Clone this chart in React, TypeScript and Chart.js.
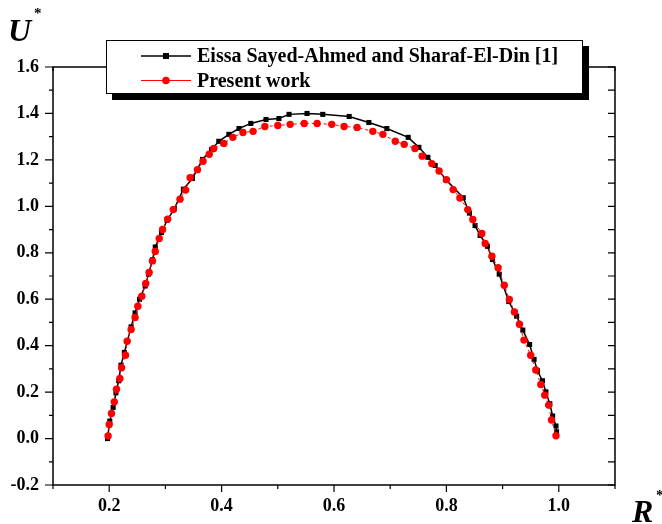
import React, { useEffect, useRef } from 'react';
import { Chart, registerables } from 'chart.js';

Chart.register(...registerables);

// Eissa Sayed-Ahmed and Sharaf-El-Din [1]
const eissaR = [0.197, 0.201, 0.207, 0.212, 0.217, 0.221, 0.227, 0.239, 0.246, 0.254, 0.264, 0.270, 0.277, 0.282, 0.293, 0.303, 0.316, 0.332, 0.348, 0.366, 0.382, 0.395, 0.413, 0.431, 0.452, 0.479, 0.502, 0.520, 0.552, 0.580, 0.627, 0.662, 0.694, 0.732, 0.751, 0.767, 0.780, 0.799, 0.830, 0.841, 0.851, 0.860, 0.873, 0.882, 0.894, 0.911, 0.925, 0.936, 0.948, 0.956, 0.962, 0.971, 0.977, 0.984, 0.989, 0.995, 0.996];
const eissaU = [0.000, 0.075, 0.134, 0.197, 0.249, 0.316, 0.371, 0.481, 0.541, 0.600, 0.657, 0.708, 0.770, 0.825, 0.887, 0.940, 0.990, 1.074, 1.120, 1.202, 1.244, 1.280, 1.310, 1.335, 1.357, 1.374, 1.378, 1.396, 1.400, 1.396, 1.387, 1.361, 1.335, 1.297, 1.254, 1.211, 1.176, 1.115, 1.037, 0.971, 0.917, 0.875, 0.828, 0.771, 0.708, 0.590, 0.527, 0.467, 0.405, 0.341, 0.292, 0.249, 0.201, 0.150, 0.097, 0.054, 0.029];

// Present work
const presentR = [0.198, 0.200, 0.204, 0.209, 0.213, 0.219, 0.222, 0.229, 0.232, 0.239, 0.246, 0.251, 0.258, 0.265, 0.271, 0.277, 0.282, 0.289, 0.295, 0.304, 0.314, 0.326, 0.336, 0.344, 0.357, 0.367, 0.378, 0.386, 0.404, 0.420, 0.438, 0.456, 0.477, 0.500, 0.522, 0.547, 0.570, 0.596, 0.618, 0.641, 0.669, 0.687, 0.709, 0.725, 0.744, 0.757, 0.774, 0.787, 0.800, 0.812, 0.824, 0.838, 0.847, 0.863, 0.869, 0.881, 0.892, 0.903, 0.912, 0.921, 0.930, 0.938, 0.950, 0.959, 0.968, 0.975, 0.982, 0.987, 0.995];
const presentU = [0.011, 0.061, 0.108, 0.158, 0.212, 0.259, 0.305, 0.359, 0.419, 0.470, 0.521, 0.570, 0.613, 0.668, 0.715, 0.765, 0.806, 0.862, 0.900, 0.945, 0.986, 1.031, 1.070, 1.123, 1.158, 1.194, 1.224, 1.249, 1.271, 1.297, 1.318, 1.323, 1.344, 1.348, 1.353, 1.357, 1.357, 1.353, 1.344, 1.340, 1.323, 1.310, 1.280, 1.267, 1.249, 1.216, 1.184, 1.152, 1.115, 1.072, 1.036, 0.986, 0.943, 0.883, 0.840, 0.785, 0.736, 0.660, 0.599, 0.545, 0.492, 0.424, 0.359, 0.295, 0.233, 0.187, 0.144, 0.080, 0.012];

const xTickLabels = ['0.2', '0.4', '0.6', '0.8', '1.0'];
const yTickLabels = ['-0.2', '0.0', '0.2', '0.4', '0.6', '0.8', '1.0', '1.2', '1.4', '1.6'];
const legendLabels = ['Eissa Sayed-Ahmed and Sharaf-El-Din [1]', 'Present work'];
const xTitle = 'R';
const yTitle = 'U';

const FONT = '"Liberation Serif", "Times New Roman", serif';

function findLabel(labels: string[], v: number): string {
  for (const l of labels) {
    if (Math.abs(parseFloat(l) - v) < 1e-6) return l;
  }
  return '';
}

const framePlugin = {
  id: 'frameTicks',
  afterDatasetsDraw(chart: any) {
    const { ctx, chartArea, scales } = chart;
    const { left, right, top, bottom } = chartArea;
    ctx.save();
    ctx.strokeStyle = '#000';
    ctx.lineWidth = 1.5;
    ctx.strokeRect(left, top, right - left, bottom - top);
    ctx.lineWidth = 1.2;
    const xs = scales.x;
    const ys = scales.y;
    ctx.beginPath();
    for (let i = 1; i <= 11; i++) {
      const v = i / 10;
      const px = xs.getPixelForValue(v);
      const major = i % 2 === 0;
      const len = major ? 7 : 4;
      ctx.moveTo(px, bottom);
      ctx.lineTo(px, bottom + len);
      ctx.moveTo(px, top);
      ctx.lineTo(px, top + len);
    }
    for (let i = -2; i <= 16; i++) {
      const v = i / 10;
      const py = ys.getPixelForValue(v);
      const major = ((i % 2) + 2) % 2 === 0;
      const len = major ? 8 : 4;
      ctx.moveTo(left, py);
      ctx.lineTo(left - len, py);
      ctx.moveTo(right, py);
      ctx.lineTo(right - 7, py);
    }
    ctx.stroke();
    ctx.restore();
  },
  afterDraw(chart: any) {
    const { ctx } = chart;
    ctx.save();
    // legend box with shadow
    ctx.fillStyle = '#000';
    ctx.fillRect(112, 46, 477, 54);
    ctx.fillStyle = '#fff';
    ctx.fillRect(106, 40, 477, 54);
    ctx.strokeStyle = '#000';
    ctx.lineWidth = 1;
    ctx.strokeRect(106.5, 40.5, 476, 53);

    const rows = [56, 80.5];
    // row 1: black line + square
    ctx.strokeStyle = '#000';
    ctx.lineWidth = 1.5;
    ctx.beginPath();
    ctx.moveTo(141, rows[0]);
    ctx.lineTo(191, rows[0]);
    ctx.stroke();
    ctx.fillStyle = '#000';
    ctx.fillRect(163, rows[0] - 3, 6, 6);
    // row 2: red line + circle
    ctx.strokeStyle = '#ff0000';
    ctx.lineWidth = 1;
    ctx.beginPath();
    ctx.moveTo(141, rows[1]);
    ctx.lineTo(191, rows[1]);
    ctx.stroke();
    ctx.fillStyle = '#ff0000';
    ctx.beginPath();
    ctx.arc(166, rows[1], 3.8, 0, Math.PI * 2);
    ctx.fill();

    ctx.fillStyle = '#000';
    ctx.font = `bold 20px ${FONT}`;
    ctx.textBaseline = 'middle';
    ctx.textAlign = 'left';
    ctx.fillText(legendLabels[0], 197, rows[0] + 1);
    ctx.fillText(legendLabels[1], 197, rows[1] + 1);

    // axis titles
    ctx.font = `italic bold 32px ${FONT}`;
    ctx.textBaseline = 'alphabetic';
    ctx.fillText(yTitle, 8, 41);
    ctx.fillText(xTitle, 632, 522);
    ctx.font = `bold 15px ${FONT}`;
    ctx.fillText('*', 34, 18);
    ctx.fillText('*', 656, 500);
    ctx.restore();
  },
};

export default function App() {
  const ref = useRef<HTMLCanvasElement | null>(null);
  useEffect(() => {
    if (!ref.current) return;
    const chart = new Chart(ref.current, {
      type: 'line',
      data: {
        datasets: [
          {
            label: legendLabels[1],
            data: presentR.map((r, i) => ({ x: r, y: presentU[i] })),
            borderColor: '#ff0000',
            backgroundColor: '#ff0000',
            borderWidth: 1,
            borderDash: [3, 3],
            pointStyle: 'circle',
            pointRadius: 3.7,
            pointBorderWidth: 0,
            order: 0,
            tension: 0,
          },
          {
            label: legendLabels[0],
            data: eissaR.map((r, i) => ({ x: r, y: eissaU[i] })),
            borderColor: '#000',
            backgroundColor: '#000',
            borderWidth: 1.5,
            pointStyle: 'rect',
            pointRadius: 3.6,
            pointBorderWidth: 0,
            order: 1,
            tension: 0,
          },
        ],
      },
      options: {
        responsive: false,
        animation: false,
        layout: { padding: { top: 67, right: 47, left: 0, bottom: 0 } },
        plugins: { legend: { display: false }, tooltip: { enabled: false } },
        scales: {
          x: {
            type: 'linear',
            min: 0.1,
            max: 1.1,
            grid: { display: false, drawTicks: false },
            border: { display: false },
            afterFit: (s: any) => { s.height = 39; },
            ticks: {
              stepSize: 0.1,
              autoSkip: false,
              maxRotation: 0,
              padding: 11,
              color: '#000',
              font: { family: FONT, size: 18, weight: 'bold' },
              callback: (v: any) => findLabel(xTickLabels, Number(v)),
            },
          },
          y: {
            type: 'linear',
            min: -0.2,
            max: 1.6,
            grid: { display: false, drawTicks: false },
            border: { display: false },
            afterFit: (s: any) => { s.width = 53; },
            ticks: {
              stepSize: 0.1,
              autoSkip: false,
              padding: 14,
              color: '#000',
              font: { family: FONT, size: 18, weight: 'bold' },
              callback: (v: any) => findLabel(yTickLabels, Number(v)),
            },
          },
        },
      },
      plugins: [framePlugin],
    } as any);
    return () => chart.destroy();
  }, []);
  return (
    <div style={{ position: 'absolute', left: 0, top: 0, width: 662, height: 524, background: '#fff' }}>
      <canvas ref={ref} width={662} height={524} style={{ display: 'block' }} />
    </div>
  );
}
